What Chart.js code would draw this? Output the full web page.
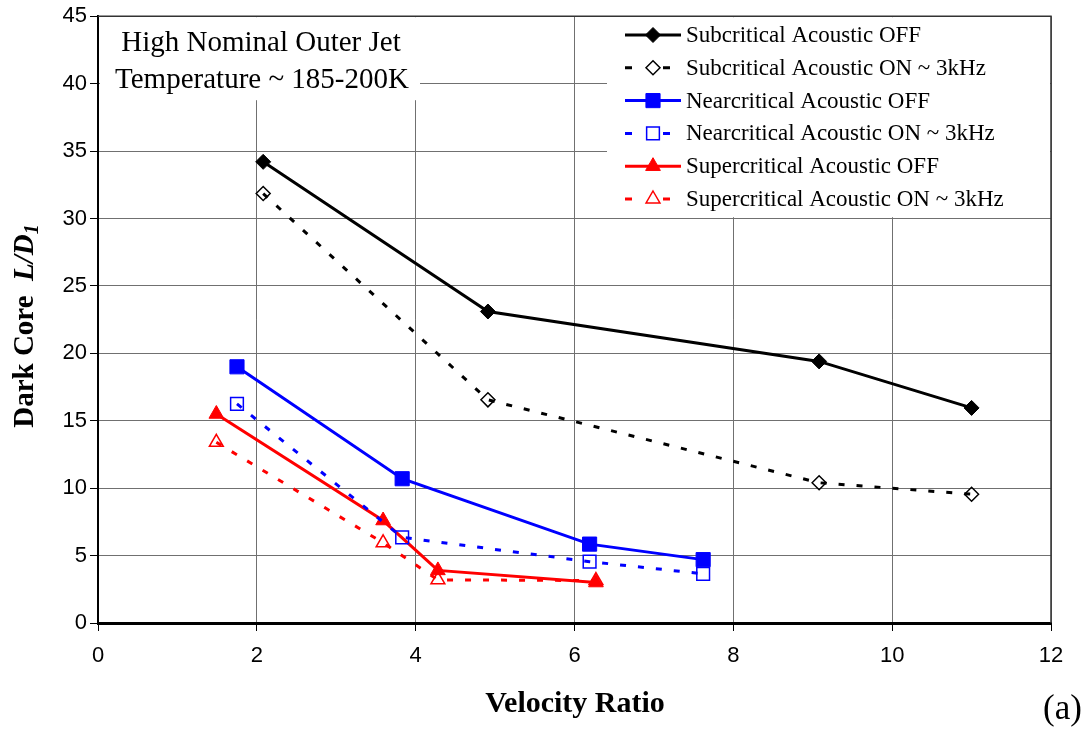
<!DOCTYPE html>
<html>
<head>
<meta charset="utf-8">
<script src="https://cdn.jsdelivr.net/npm/chart.js@4.4.0/dist/chart.umd.min.js"></script>
<style>
  html, body { margin: 0; padding: 0; background: #fff; }
  #wrap { width: 1087px; height: 729px; }
</style>
</head>
<body>
<div id="wrap"><canvas id="chart" width="1087" height="729"></canvas></div>
<script>
// valores
const subOffX = [2.08, 4.91, 9.08, 11.0];
const subOffY = [34.2, 23.1, 19.4, 15.95];
const subOnX = [2.08, 4.91, 9.08, 11.0];
const subOnY = [31.85, 16.55, 10.4, 9.55];
const nearOffX = [1.75, 3.83, 6.19, 7.62];
const nearOffY = [19.0, 10.7, 5.85, 4.7];
const nearOnX = [1.75, 3.83, 6.19, 7.62];
const nearOnY = [16.25, 6.35, 4.55, 3.65];
const superOffX = [1.49, 3.59, 4.28, 6.27];
const superOffY = [15.5, 7.6, 3.9, 3.0];
const superOnX = [1.49, 3.59, 4.28, 6.27];
const superOnY = [13.4, 5.95, 3.2, 3.15];

const seriesNames = [
  'Subcritical Acoustic OFF',
  'Subcritical Acoustic ON ~ 3kHz',
  'Nearcritical Acoustic OFF',
  'Nearcritical Acoustic ON ~ 3kHz',
  'Supercritical Acoustic OFF',
  'Supercritical Acoustic ON ~ 3kHz'
];
const xTicks = [0, 2, 4, 6, 8, 10, 12];
const yTicks = [0, 5, 10, 15, 20, 25, 30, 35, 40, 45];
const boxLines = ['High Nominal Outer Jet', 'Temperature ~ 185-200K'];

const pts = (xs, ys) => xs.map((x, i) => ({ x: x, y: ys[i] }));
const DASH = [6, 12];

function serie(label, xs, ys, color, dashed, style, r, filled) {
  return {
    label: label,
    data: pts(xs, ys),
    borderColor: color,
    borderWidth: 3,
    borderDash: dashed ? DASH : [],
    pointStyle: style,
    pointRadius: r,
    pointHoverRadius: r,
    pointBackgroundColor: filled ? color : 'rgba(0,0,0,0)',
    pointBorderColor: color,
    pointBorderWidth: filled ? 1 : 1.5,
    fill: false,
    tension: 0
  };
}

const datasets = [
  serie(seriesNames[0], subOffX, subOffY, '#000000', false, 'rectRot', 7.5, true),
  serie(seriesNames[1], subOnX, subOnY, '#000000', true, 'rectRot', 7, false),
  serie(seriesNames[2], nearOffX, nearOffY, '#0000ff', false, 'rect', 10, true),
  serie(seriesNames[3], nearOnX, nearOnY, '#0000ff', true, 'rect', 9, false),
  serie(seriesNames[4], superOffX, superOffY, '#ff0000', false, 'triangle', 8.5, true),
  serie(seriesNames[5], superOnX, superOnY, '#ff0000', true, 'triangle', 8, false)
];

// marcador para la leyenda
function marker(ctx, ds, x, y) {
  const r = ds.pointRadius;
  ctx.save();
  ctx.setLineDash([]);
  ctx.lineWidth = ds.pointBorderWidth;
  ctx.strokeStyle = ds.pointBorderColor;
  ctx.fillStyle = ds.pointBackgroundColor;
  ctx.beginPath();
  if (ds.pointStyle === 'rectRot') {
    ctx.moveTo(x, y - r); ctx.lineTo(x + r, y); ctx.lineTo(x, y + r); ctx.lineTo(x - r, y);
  } else if (ds.pointStyle === 'rect') {
    const h = r * Math.SQRT1_2;
    ctx.rect(x - h, y - h, 2 * h, 2 * h);
  } else {
    ctx.moveTo(x, y - r);
    ctx.lineTo(x + r * 0.866, y + r * 0.5);
    ctx.lineTo(x - r * 0.866, y + r * 0.5);
  }
  ctx.closePath();
  ctx.fill();
  ctx.stroke();
  ctx.restore();
}

const decor = {
  id: 'decor',
  beforeDatasetsDraw(chart) {
    const ctx = chart.ctx, a = chart.chartArea;
    ctx.save();
    // borde superior y derecho
    ctx.strokeStyle = '#333';
    ctx.lineWidth = 1.5;
    ctx.beginPath();
    ctx.moveTo(a.left, a.top); ctx.lineTo(a.right, a.top); ctx.lineTo(a.right, a.bottom);
    ctx.stroke();

    // caja de texto
    ctx.fillStyle = '#fff';
    ctx.fillRect(a.left + 2, a.top + 1, 320, 83);
    ctx.fillStyle = '#000';
    ctx.font = '29px "Liberation Serif", "Times New Roman", serif';
    ctx.textAlign = 'center';
    ctx.textBaseline = 'middle';
    ctx.fillText(boxLines[0], 261, 43);
    ctx.fillText(boxLines[1], 262, 80);

    // leyenda
    ctx.fillStyle = '#fff';
    ctx.fillRect(607, a.top + 1, a.right - 608, 200);
    ctx.font = '23px "Liberation Serif", "Times New Roman", serif';
    ctx.textAlign = 'left';
    chart.data.datasets.forEach((ds, i) => {
      const y = 35 + i * 32.8;
      ctx.strokeStyle = ds.borderColor;
      ctx.lineWidth = 3;
      ctx.beginPath();
      if (ds.borderDash.length) {
        ctx.moveTo(625, y); ctx.lineTo(632, y);
        ctx.moveTo(663, y); ctx.lineTo(670, y);
      } else {
        ctx.moveTo(625, y); ctx.lineTo(681, y);
      }
      ctx.stroke();
      marker(ctx, ds, 653, y);
      ctx.fillStyle = '#000';
      ctx.fillText(ds.label, 686, y + 1);
    });
    ctx.restore();
  },
  afterDraw(chart) {
    const ctx = chart.ctx;
    ctx.save();
    ctx.fillStyle = '#000';
    ctx.textBaseline = 'middle';
    // título eje x
    ctx.font = 'bold 30px "Liberation Serif", "Times New Roman", serif';
    ctx.textAlign = 'center';
    ctx.fillText('Velocity Ratio', 575, 704);
    // (a)
    ctx.font = '35px "Liberation Serif", "Times New Roman", serif';
    ctx.textAlign = 'left';
    ctx.fillText('(a)', 1043, 710);

    // título eje y: Dark Core L/D1
    ctx.translate(33, 326);
    ctx.rotate(-Math.PI / 2);
    ctx.textBaseline = 'alphabetic';
    const f1 = 'bold 29px "Liberation Serif", "Times New Roman", serif';
    const f2 = 'italic bold 29px "Liberation Serif", "Times New Roman", serif';
    const f3 = 'italic bold 20px "Liberation Serif", "Times New Roman", serif';
    ctx.font = f1; const w1 = ctx.measureText('Dark Core  ').width;
    ctx.font = f2; const w2 = ctx.measureText('L/D').width;
    ctx.font = f3; const w3 = ctx.measureText('1').width;
    let x = -(w1 + w2 + w3) / 2;
    ctx.font = f1; ctx.fillText('Dark Core  ', x, 0); x += w1;
    ctx.font = f2; ctx.fillText('L/D', x, 0); x += w2;
    ctx.font = f3; ctx.fillText('1', x, 5);
    ctx.restore();
  }
};

new Chart(document.getElementById('chart'), {
  type: 'line',
  data: { datasets: datasets },
  plugins: [decor],
  options: {
    responsive: false,
    animation: false,
    devicePixelRatio: 1,
    layout: { padding: { left: 0, top: 16, right: 36, bottom: 0 } },
    plugins: { legend: { display: false }, tooltip: { enabled: false } },
    scales: {
      x: {
        type: 'linear',
        min: 0, max: 12,
        afterBuildTicks: s => { s.ticks = xTicks.map(v => ({ value: v })); },
        afterFit: s => { s.height = 106; },
        grid: { color: '#707070', lineWidth: 1, tickLength: 8, tickColor: '#000' },
        border: { color: '#000', width: 3 },
        ticks: {
          color: '#000', padding: 12, maxRotation: 0,
          font: { family: '"Liberation Sans", Arial, sans-serif', size: 22 }
        }
      },
      y: {
        min: 0, max: 45,
        afterBuildTicks: s => { s.ticks = yTicks.map(v => ({ value: v })); },
        afterFit: s => { s.width = 98; },
        grid: { color: '#707070', lineWidth: 1, tickLength: 8, tickColor: '#000' },
        border: { color: '#000', width: 2 },
        ticks: {
          color: '#000', padding: 3,
          font: { family: '"Liberation Sans", Arial, sans-serif', size: 22 }
        }
      }
    }
  }
});
</script>
</body>
</html>
